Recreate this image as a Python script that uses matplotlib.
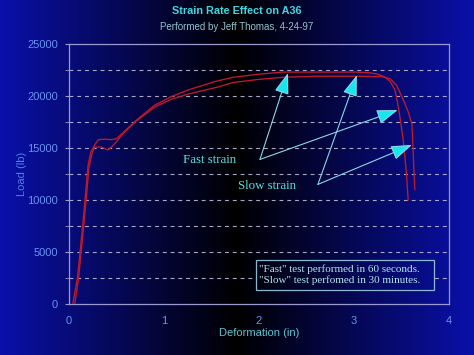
import numpy as np
import matplotlib
matplotlib.use("Agg")
import matplotlib.pyplot as plt
from matplotlib.patches import Rectangle

# ---- data ----
fast_x = [0.04, 0.09, 0.15, 0.20, 0.23, 0.27, 0.31, 0.38, 0.45, 0.50, 0.56, 0.70, 0.90,
          1.08, 1.26, 1.54, 1.73, 2.00, 2.25, 2.60, 3.00, 3.15, 3.25, 3.32, 3.38, 3.43,
          3.46, 3.49, 3.52, 3.55, 3.57]
fast_y = [0, 2600, 8100, 13300, 14600, 15300, 15800, 15850, 15800, 15900, 16400, 17600,
          19100, 19950, 20600, 21400, 21800, 22100, 22300, 22300, 22300, 22250, 22100,
          21850, 21400, 20600, 19300, 17600, 15600, 12800, 10000]

slow_x = [0.06, 0.10, 0.16, 0.21, 0.24, 0.27, 0.34, 0.41, 0.47, 0.50, 0.555, 0.695, 0.905,
          1.08, 1.26, 1.54, 1.73, 2.00, 2.25, 2.60, 3.00, 3.30, 3.38, 3.45, 3.52, 3.57,
          3.61, 3.62, 3.63, 3.64]
slow_y = [0, 2400, 8000, 13100, 14400, 15100, 15100, 14800, 15300, 15600, 16250, 17500,
          18950, 19700, 20200, 20800, 21300, 21600, 21800, 21900, 21900, 21850, 21650,
          21000, 19600, 18500, 17300, 15200, 13000, 11000]

x_ticks = [0, 1, 2, 3, 4]
y_ticks = [0, 5000, 10000, 15000, 20000, 25000]
y_grid = [2500, 5000, 7500, 10000, 12500, 15000, 17500, 20000, 22500]

title = "Strain Rate Effect on A36"
subtitle = "Performed by Jeff Thomas, 4-24-97"
note = "\"Fast\" test performed in 60 seconds.\n\"Slow\" test perfomed in 30 minutes."

W, H, DPI = 474, 355, 100
fig = plt.figure(figsize=(W / DPI, H / DPI), dpi=DPI)

edge = np.array([10, 16, 170]) / 255.0


def grad_cols(fx0, fx1, n):
    fx = np.linspace(fx0, fx1, n)
    t = np.abs(fx * 2 - 1)
    return t[:, None] * edge[None, :]


# background gradient: blue edges, black centre
bg = fig.add_axes([0, 0, 1, 1], zorder=-10)
bg.imshow(grad_cols(0, 1, 600)[None, :, :], aspect="auto", extent=[0, 1, 0, 1])
bg.set_axis_off()

ax = fig.add_axes([69 / W, 51 / H, 380 / W, 260 / H])
ax.set_facecolor("none")
ax.set_xlim(0, 4)
ax.set_ylim(0, 25000)

spine_col = "#9a9ad0"
for s in ax.spines.values():
    s.set_color(spine_col)
    s.set_linewidth(0.9)

for g in y_grid:
    ax.axhline(g, color="#a8a8c8", lw=0.8, ls=(0, (3.5, 3.5)), zorder=1)

ax.plot(fast_x, fast_y, color="#c01a2a", lw=0.95, zorder=3)
ax.plot(slow_x, slow_y, color="#c01a2a", lw=0.95, zorder=3)

tick_col = "#6a92ec"
ax.set_xticks(x_ticks)
ax.set_yticks(y_ticks)
ax.set_yticks(y_grid, minor=True)
ax.tick_params(axis="x", length=0, pad=9, labelcolor=tick_col, labelsize=8)
ax.tick_params(axis="y", which="both", length=3, color=spine_col, pad=5,
               labelcolor=tick_col, labelsize=8)
for lab in ax.get_xticklabels() + ax.get_yticklabels():
    lab.set_family("Liberation Sans")

ax.set_xlabel("Deformation (in)", color="#5cc4d0", fontsize=8,
              family="Liberation Sans", labelpad=1)
ax.set_ylabel("Load (lb)", color="#4f80e8", fontsize=8,
              family="Liberation Sans", labelpad=0)

fig.text(0.5, 1 - 11 / H, title, ha="center", va="center", color="#3ed8e0",
         fontsize=7.8, fontweight="bold", family="Liberation Sans")
fig.text(0.5, 1 - 27 / H, subtitle, ha="center", va="center", color="#8fc4cc",
         fontsize=7.0, family="Liberation Sans")

# annotations
lab_col = "#5ce0e0"
ax.text(1.20, 13850, "Fast strain", color=lab_col, fontsize=9.3,
        family="Liberation Serif", ha="left", va="center", zorder=5)
ax.text(1.78, 11350, "Slow strain", color=lab_col, fontsize=9.3,
        family="Liberation Serif", ha="left", va="center", zorder=5)

arrow_kw = dict(arrowstyle="-|>,head_length=1.3,head_width=0.45",
                edgecolor="#8ad8e8", facecolor="#18e6ee", lw=0.8,
                shrinkA=0, shrinkB=0)
for tip in [(2.305, 22200), (3.46, 18650)]:
    ax.annotate("", xy=tip, xytext=(2.01, 13900), arrowprops=arrow_kw, zorder=6)
for tip in [(3.03, 22000), (3.61, 15300)]:
    ax.annotate("", xy=tip, xytext=(2.62, 11500), arrowprops=arrow_kw, zorder=6)

# note box (opaque, showing the background gradient, hiding the gridline)
bx0, bx1, by0, by1 = 1.97, 3.84, 1350, 4230
fx0 = (69 + bx0 / 4 * 380) / W
fx1 = (69 + bx1 / 4 * 380) / W
ax.imshow(grad_cols(fx0, fx1, 200)[None, :, :], aspect="auto",
          extent=[bx0, bx1, by0, by1], zorder=4)
ax.set_xlim(0, 4)
ax.set_ylim(0, 25000)
ax.set_aspect("auto")
ax.add_patch(Rectangle((bx0, by0), bx1 - bx0, by1 - by0, facecolor="none",
                       edgecolor="#8cb8d0", lw=0.9, zorder=5))
ax.text(2.0, 2820, note, color="#b4e4ea", fontsize=8.0, family="Liberation Serif",
        ha="left", va="center", linespacing=1.2, zorder=5)

fig.savefig("out.png", dpi=DPI)
